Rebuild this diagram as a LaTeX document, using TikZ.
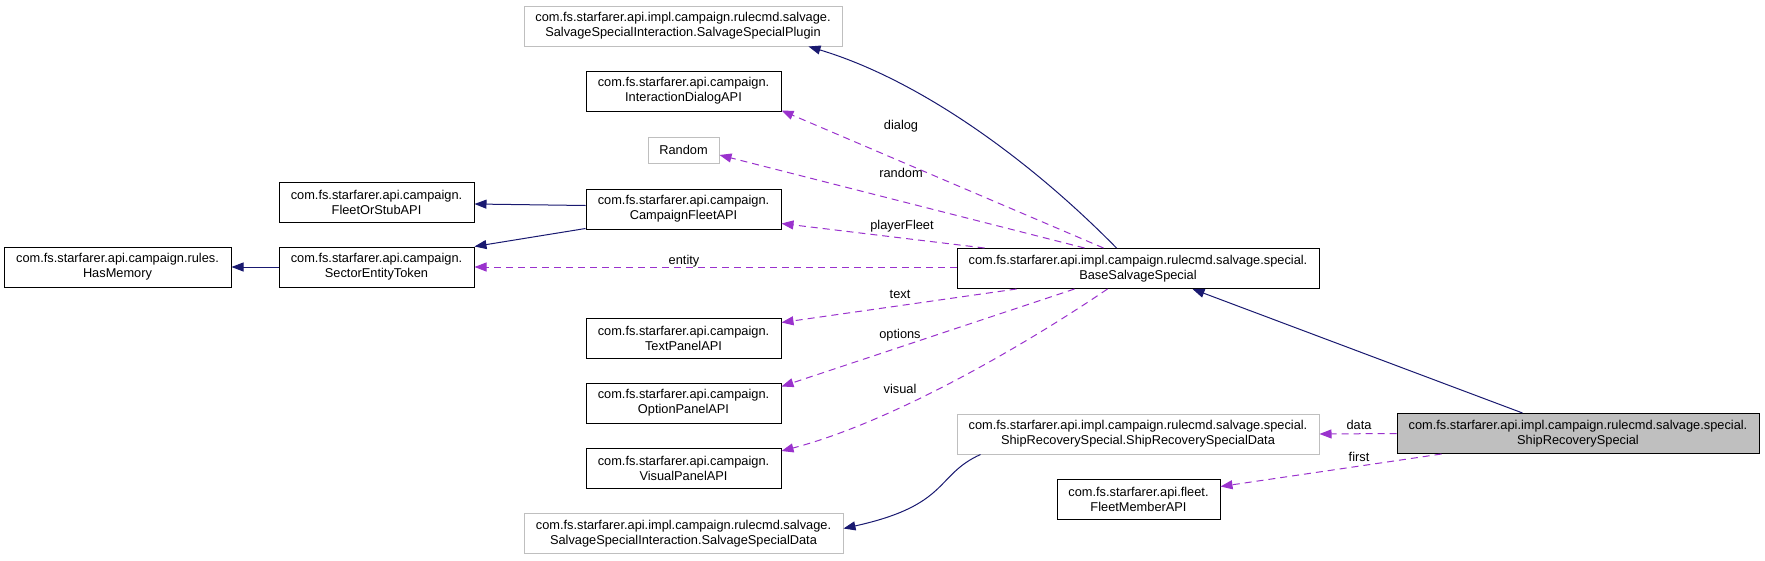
\documentclass[tikz,border=0pt]{standalone}
\usepackage{fontspec}
\setmainfont{Liberation Sans}
\usetikzlibrary{arrows.meta,calc}
\definecolor{navyedge}{HTML}{191970}
\definecolor{orchidedge}{HTML}{9A32CD}
\definecolor{greyline}{HTML}{BFBFBF}
\begin{document}
\begin{tikzpicture}[x=1pt,y=-1pt,
  cls/.style={draw=black, line width=1pt, align=center, minimum height=40pt,
    inner sep=0pt, font=\fontsize{12.8}{15}\selectfont},
  extcls/.style={cls, draw=greyline},
  inh/.style={draw=navyedge, line width=1pt, -{Triangle[length=12pt,width=9pt]}},
  usage/.style={draw=orchidedge, line width=1pt, dash pattern=on 7pt off 5pt,
    -{Triangle[length=12pt,width=9pt]}},
  lbl/.style={font=\fontsize{12.8}{15}\selectfont, inner sep=0pt}]
\useasboundingbox (0,0) rectangle (1765,560);

% nodes
\node[cls, minimum width=227pt] (hasmem) at (117.5,267) {com.fs.starfarer.api.campaign.rules.\\HasMemory};
\node[cls, minimum width=195pt] (fos) at (376.5,202) {com.fs.starfarer.api.campaign.\\FleetOrStubAPI};
\node[cls, minimum width=195pt] (set) at (376.5,267) {com.fs.starfarer.api.campaign.\\SectorEntityToken};
\node[extcls, minimum width=318pt] (plugin) at (683,26) {com.fs.starfarer.api.impl.campaign.rulecmd.salvage.\\SalvageSpecialInteraction.SalvageSpecialPlugin};
\node[cls, minimum width=195pt] (idlg) at (683.5,91) {com.fs.starfarer.api.campaign.\\InteractionDialogAPI};
\node[extcls, minimum width=71pt, minimum height=26pt] (rnd) at (683.5,150) {Random};
\node[cls, minimum width=195pt] (cfleet) at (683.5,209) {com.fs.starfarer.api.campaign.\\CampaignFleetAPI};
\node[cls, minimum width=195pt] (tpanel) at (683.5,338) {com.fs.starfarer.api.campaign.\\TextPanelAPI};
\node[cls, minimum width=195pt] (opanel) at (683.5,403) {com.fs.starfarer.api.campaign.\\OptionPanelAPI};
\node[cls, minimum width=195pt] (vpanel) at (683.5,468.5) {com.fs.starfarer.api.campaign.\\VisualPanelAPI};
\node[extcls, minimum width=319pt] (sdata) at (683.5,533.5) {com.fs.starfarer.api.impl.campaign.rulecmd.salvage.\\SalvageSpecialInteraction.SalvageSpecialData};
\node[cls, minimum width=362pt] (base) at (1138,268.5) {com.fs.starfarer.api.impl.campaign.rulecmd.salvage.special.\\BaseSalvageSpecial};
\node[extcls, minimum width=362pt] (shipdata) at (1138,434) {com.fs.starfarer.api.impl.campaign.rulecmd.salvage.special.\\ShipRecoverySpecial.ShipRecoverySpecialData};
\node[cls, minimum width=163pt] (fmember) at (1138.5,499) {com.fs.starfarer.api.fleet.\\FleetMemberAPI};
\node[cls, fill=greyline, minimum width=362pt] (shiprec) at (1578,433.5) {com.fs.starfarer.api.impl.campaign.rulecmd.salvage.special.\\ShipRecoverySpecial};

% inheritance edges
\draw[inh] ($(cfleet.north west)+(0,17)$) -- ($(fos.east)+(0,2)$);
\draw[inh] ($(cfleet.south west)+(0,-1)$) -- (set.north east);
\draw[inh] (set.west) -- (hasmem.east);
\draw[inh] ($(base.north west)+(160,0)$) .. controls (1030,160) and (920,80) .. ($(plugin.south east)+(-34,0)$);
\draw[inh] ($(shiprec.north west)+(126,0)$) -- ($(base.south west)+(236,0)$);
\draw[inh] ($(shipdata.south west)+(24,0)$) .. controls (935,475) and (950,505) .. ($(sdata.east)+(0,-5)$);

% usage edges
\draw[usage] ($(base.north west)+(147,0)$) -- ($(idlg.south east)+(0,-1)$);
\draw[usage] ($(base.north west)+(128,0)$) -- ($(rnd.east)+(0,5)$);
\draw[usage] ($(base.north west)+(28,0)$) -- ($(cfleet.south east)+(0,-6)$);
\draw[usage] (base.west |- set.east) -- (set.east);
\draw[usage] ($(base.south west)+(60,0)$) -- ($(tpanel.north east)+(0,5)$);
\draw[usage] ($(base.south west)+(118,0)$) -- ($(opanel.north east)+(0,4)$);
\draw[usage] ($(base.south west)+(151,0)$) .. controls (1040,335) and (900,420) .. ($(vpanel.north east)+(0,3)$);
\draw[usage] (shiprec.west) -- (shipdata.east);
\draw[usage] ($(shiprec.south west)+(45,0)$) -- ($(fmember.north east)+(0,8)$);

% labels
\node[lbl] (ldialog) at (901,126) {dialog};
\node[lbl] (lrandom) at (901,173) {random};
\node[lbl] (lplayer) at (902,226) {playerFleet};
\node[lbl] (lentity) at (684,261) {entity};
\node[lbl] (ltext) at (900,294) {text};
\node[lbl] (loptions) at (900,335) {options};
\node[lbl] (lvisual) at (900,389) {visual};
\node[lbl] (ldata) at (1359,425) {data};
\node[lbl] (lfirst) at (1359,457) {first};
\end{tikzpicture}
\end{document}
